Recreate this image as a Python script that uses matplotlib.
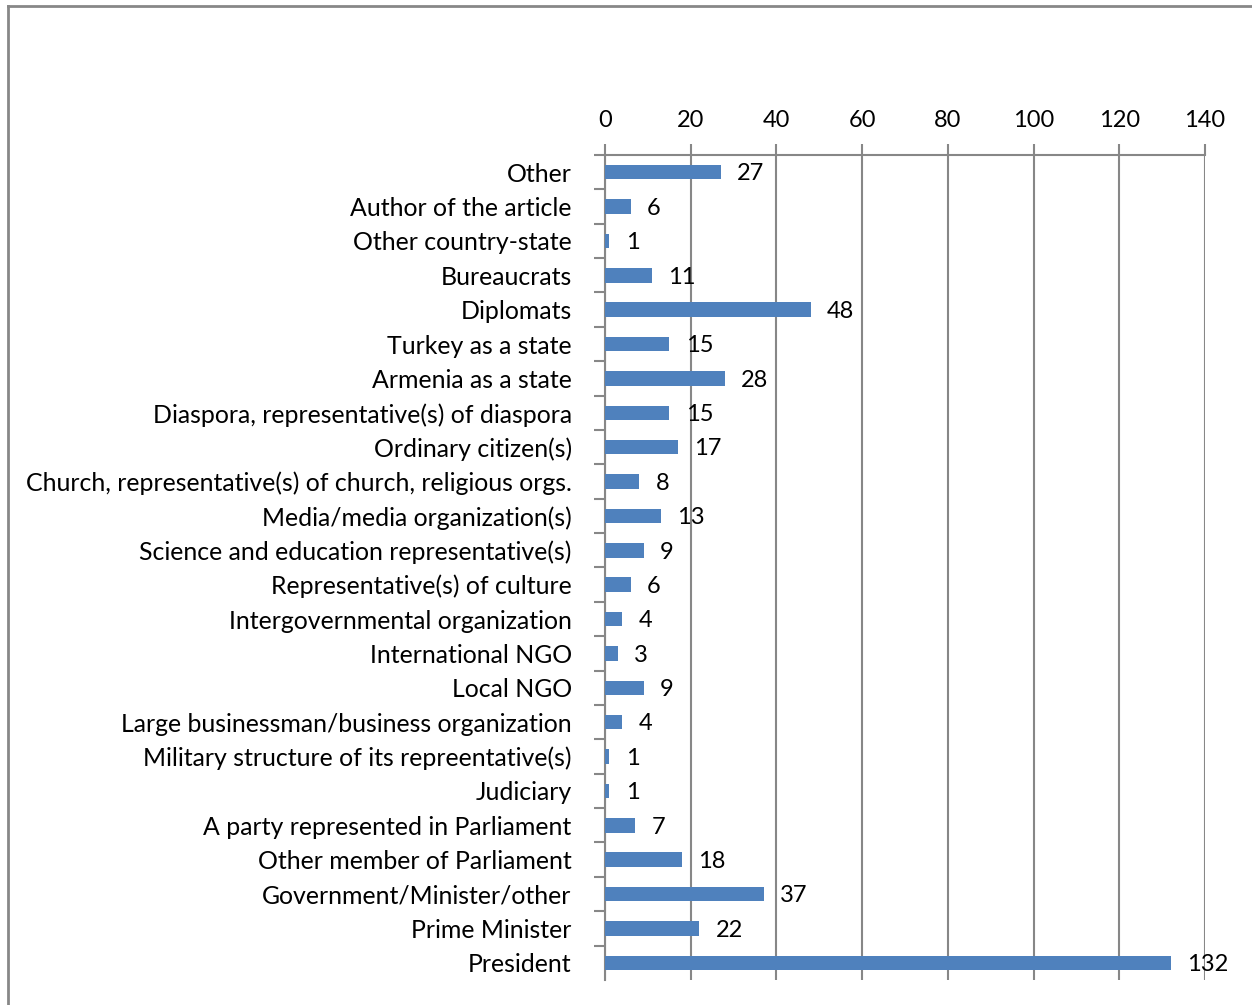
import matplotlib.pyplot as plt
from matplotlib.lines import Line2D

plt.rcParams['font.family'] = ['Lato', 'DejaVu Sans']

categories = [
    "Other",
    "Author of the article",
    "Other country-state",
    "Bureaucrats",
    "Diplomats",
    "Turkey as a state",
    "Armenia as a state",
    "Diaspora, representative(s) of diaspora",
    "Ordinary citizen(s)",
    "Church, representative(s) of church, religious orgs.",
    "Media/media organization(s)",
    "Science and education representative(s)",
    "Representative(s) of culture",
    "Intergovernmental organization",
    "International NGO",
    "Local NGO",
    "Large businessman/business organization",
    "Military structure of its repreentative(s)",
    "Judiciary",
    "A party represented in Parliament",
    "Other member of Parliament",
    "Government/Minister/other",
    "Prime Minister",
    "President",
]
values = [27, 6, 1, 11, 48, 15, 28, 15, 17, 8, 13, 9, 6, 4, 3, 9, 4, 1, 1, 7, 18, 37, 22, 132]
xticks = [0, 20, 40, 60, 80, 100, 120, 140]

grid_col = '#878787'
bar_col = '#4F81BD'

fig = plt.figure(figsize=(12.52, 10.05), dpi=100)
ax = fig.add_axes([605 / 1252, 1 - 980 / 1005, 600 / 1252, 825 / 1005])

pos = list(range(len(categories)))
ax.barh(pos, values, height=0.42, color=bar_col, zorder=3)
for p, v in zip(pos, values):
    ax.text(v + 3.8, p + 0.05, str(v), va='center', ha='left', fontsize=17, zorder=4)

ax.set_xlim(0, 140)
ax.set_ylim(len(categories) - 0.5, -0.5)
ax.set_xticks(xticks)
ax.xaxis.tick_top()
ax.tick_params(axis='x', length=8, width=1.5, color=grid_col, labelsize=17, pad=9)
ax.set_yticks([p + 0.5 for p in pos[:-1]] + [-0.5], minor=False)
ax.set_yticklabels([])
ax.tick_params(axis='y', length=8, width=1.5, color=grid_col)
ax.set_yticks(pos, minor=True)
ax.set_yticklabels(categories, minor=True)
ax.tick_params(axis='y', which='minor', length=0, labelsize=17.9, pad=24)
ax.grid(axis='x', color=grid_col, linewidth=1.5, zorder=0)
for s in ['right', 'bottom']:
    ax.spines[s].set_visible(False)
for s in ['left', 'top']:
    ax.spines[s].set_color(grid_col)
    ax.spines[s].set_linewidth(1.5)

# outer chart border
fig.add_artist(Line2D([8 / 1252, 8 / 1252], [0, 1 - 6 / 1005], color=grid_col, lw=2))
fig.add_artist(Line2D([8 / 1252, 1], [1 - 6 / 1005, 1 - 6 / 1005], color=grid_col, lw=2))

fig.savefig('out.png', dpi=100)
